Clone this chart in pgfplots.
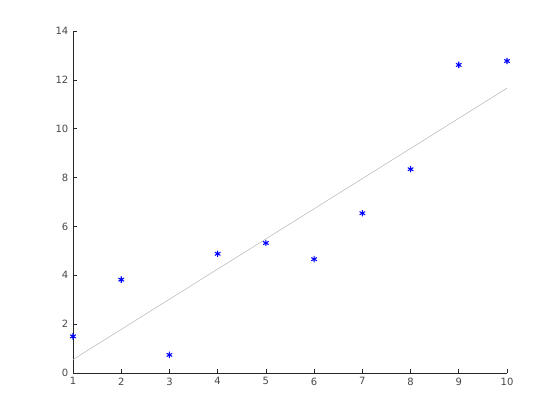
\documentclass[border=0pt]{standalone}
\usepackage{fontspec}
\setmainfont{DejaVu Sans}
\usepackage{pgfplots}
\pgfplotsset{compat=1.18}
\definecolor{tickgray}{RGB}{38,38,38}
\begin{document}
\begin{tikzpicture}[x=0.75pt,y=0.75pt]
\path[use as bounding box] (0,0) rectangle (560,420);
\begin{axis}[
  at={(54.75pt,35.25pt)}, anchor=south west,
  scale only axis, width=325.5pt, height=256.5pt,
  xmin=1, xmax=10, ymin=0, ymax=14,
  xtick={1,...,10}, ytick={0,2,...,14},
  axis x line*=bottom, axis y line*=left,
  axis line style={tickgray, line width=0.5pt},
  tick style={tickgray, line width=0.5pt},
  major tick length=3pt,
  tick align=inside,
  ticklabel style={font=\fontsize{7.5}{9}\selectfont, text=tickgray!85},
  /pgf/number format/assume math mode=true,
  clip=false,
]
\addplot[gray!55, line width=0.4pt] coordinates {(1,0.55) (10,11.66)};
\addplot[only marks, mark=asterisk, blue, mark size=2.4pt, line width=0.8pt] coordinates {
(1,1.50) (2,3.82) (3,0.74) (4,4.88) (5,5.32) (6,4.66) (7,6.54) (8,8.34) (9,12.61) (10,12.77)};
\end{axis}
\end{tikzpicture}
\end{document}
